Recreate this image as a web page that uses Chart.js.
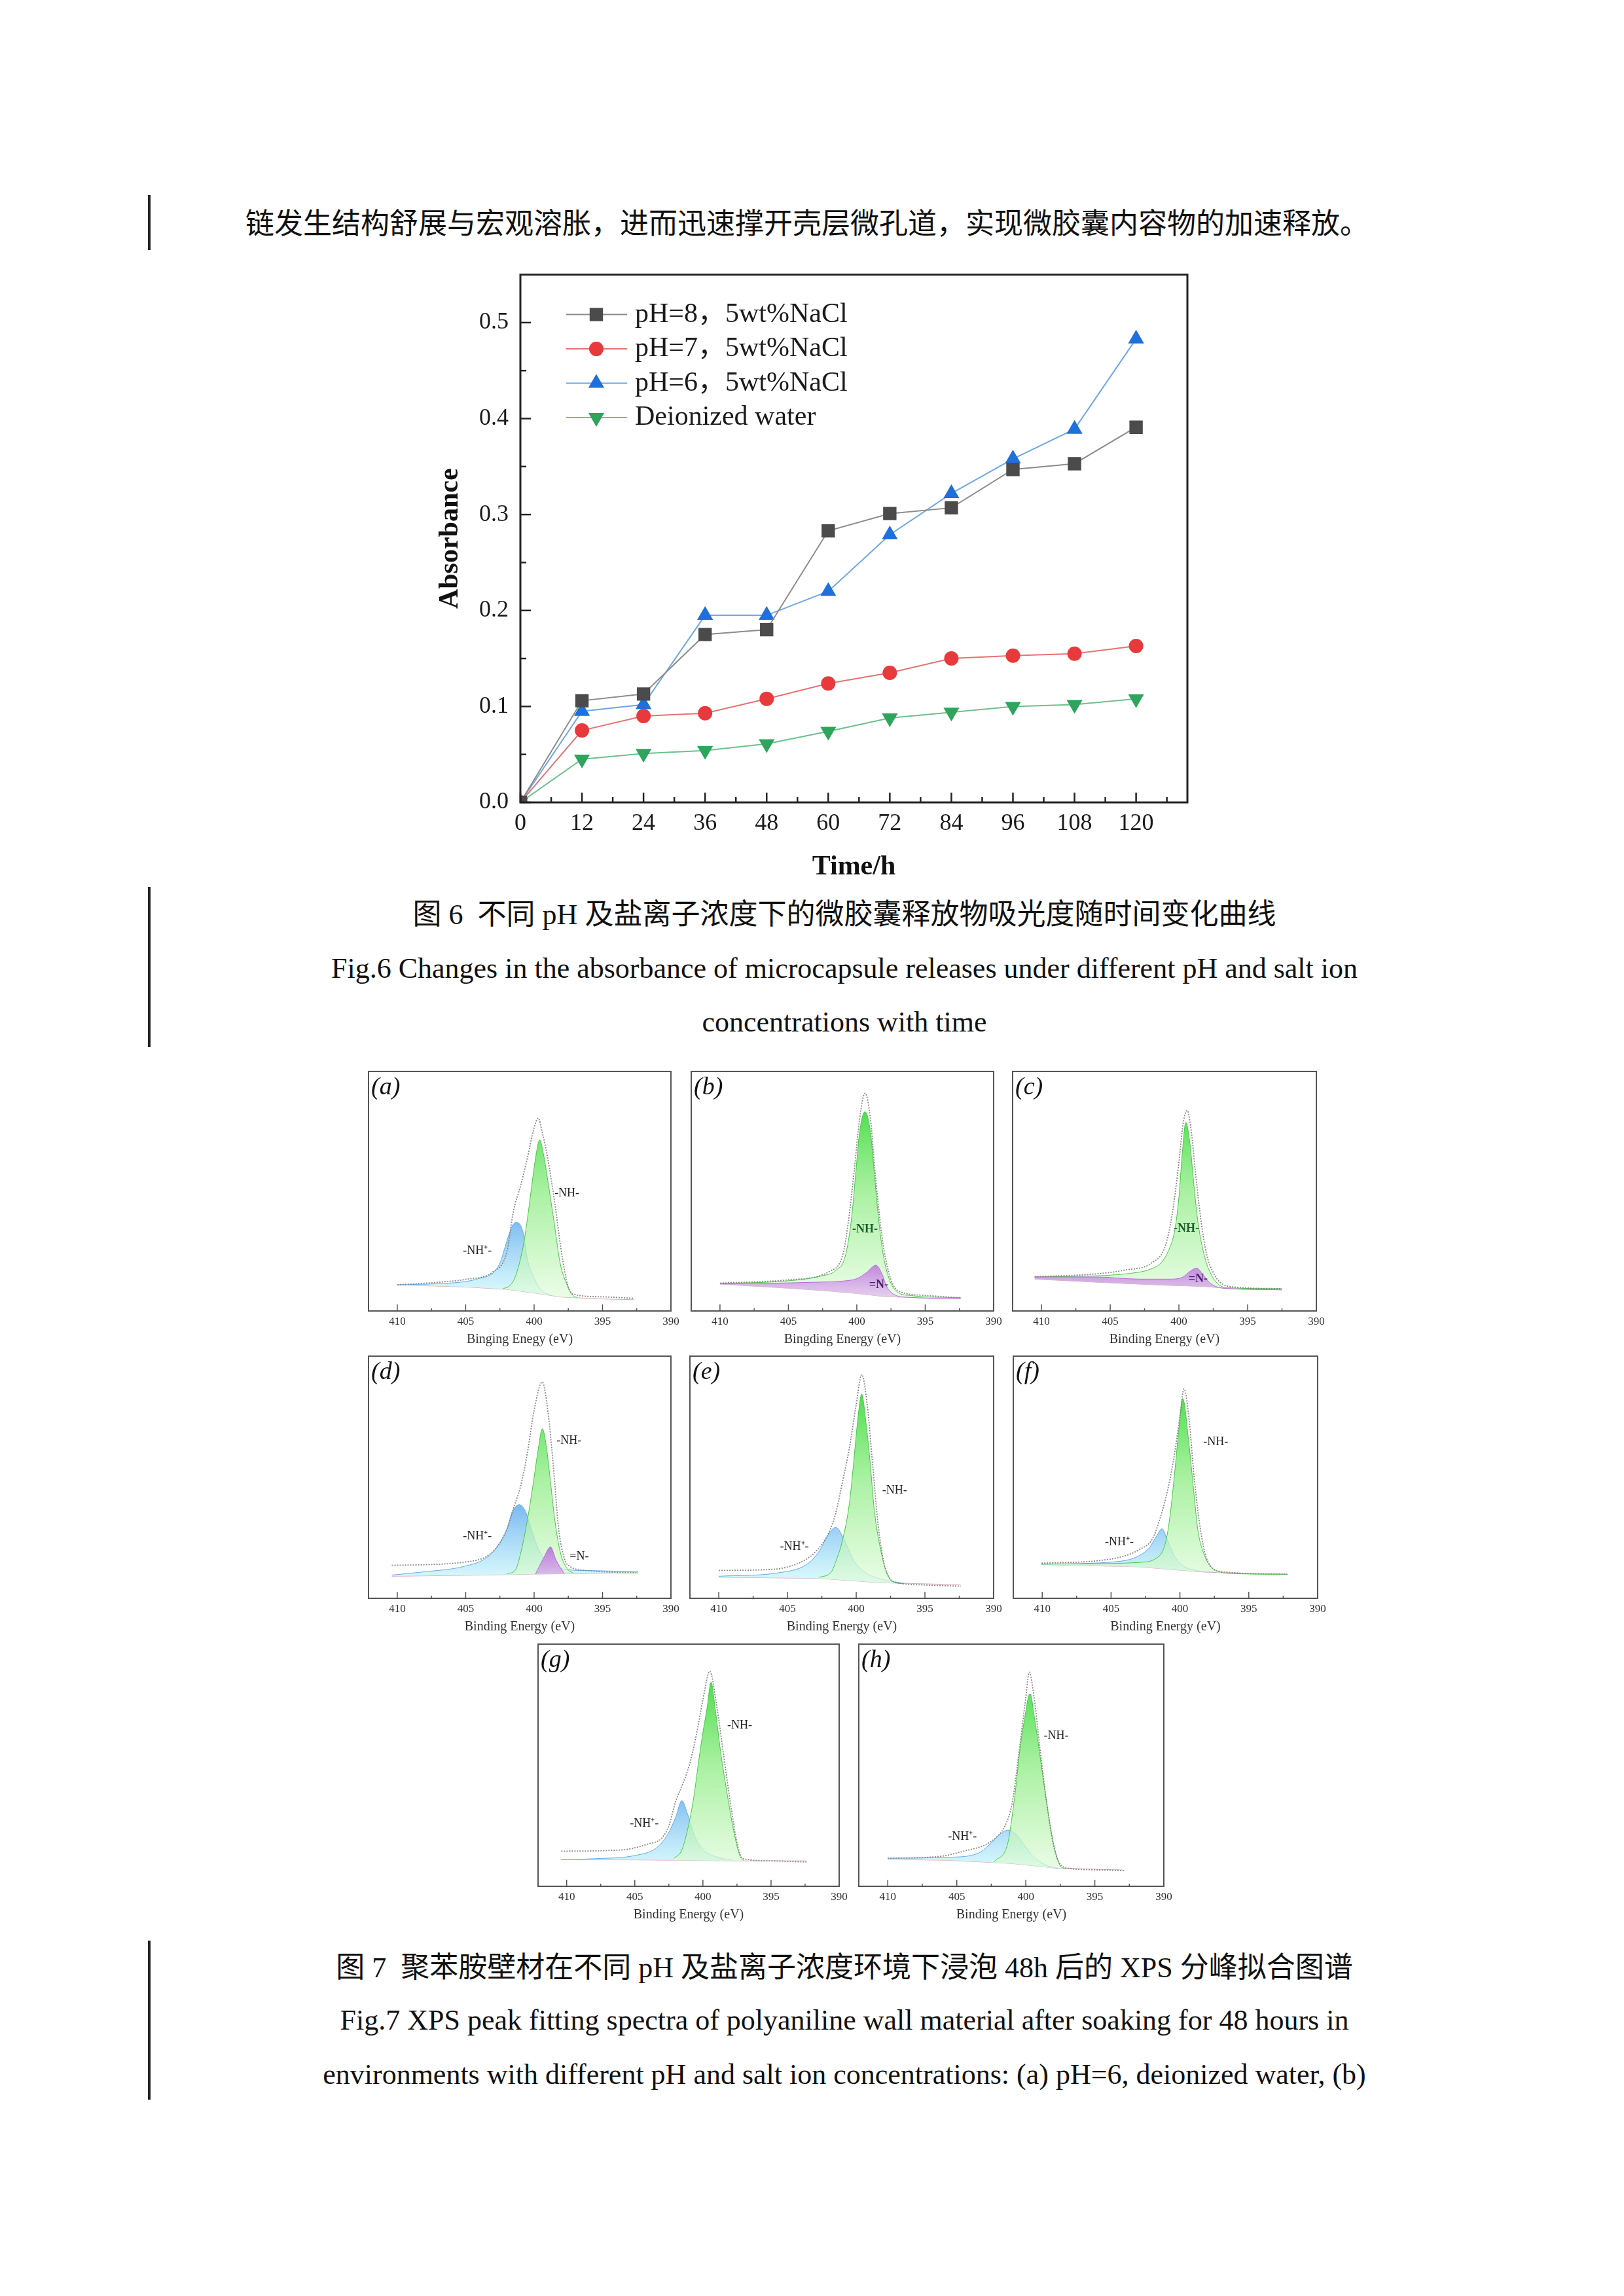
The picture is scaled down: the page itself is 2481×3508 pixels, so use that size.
<!DOCTYPE html>
<html>
<head>
<meta charset="utf-8">
<script src="https://cdn.jsdelivr.net/npm/chart.js@4.4.1/dist/chart.umd.min.js"></script>
<style>
html, body { margin: 0; padding: 0; background: #fff; }
#page { position: relative; width: 2481px; height: 3508px; background: #fff; overflow: hidden;
        font-family: "Liberation Serif", "Noto Sans CJK SC", serif; color: #111; }
.t { position: absolute; white-space: nowrap; font-size: 44px; line-height: 50px; }
.c { position: absolute; left: 290px; width: 2000px; text-align: center; white-space: nowrap; font-size: 44px; line-height: 50px; }
.bar { position: absolute; left: 226px; width: 4px; background: #222; }
canvas { position: absolute; }
</style>
</head>
<body>
<div id="page">
  <div class="bar" style="top:298px;height:84px"></div>
  <div class="t" style="left:375px;top:318px">链发生结构舒展与宏观溶胀，进而迅速撑开壳层微孔道，实现微胶囊内容物的加速释放。</div>

  <canvas id="fig6" width="1176" height="970" style="left:663px;top:380px"></canvas>

  <div class="bar" style="top:1355px;height:245px"></div>
  <div class="c" style="top:1373px">图 6&nbsp; 不同 pH 及盐离子浓度下的微胶囊释放物吸光度随时间变化曲线</div>
  <div class="c" style="top:1455px">Fig.6 Changes in the absorbance of microcapsule releases under different pH and salt ion</div>
  <div class="c" style="top:1537px">concentrations with time</div>

  <canvas id="pa"></canvas><canvas id="pb"></canvas><canvas id="pc"></canvas>
  <canvas id="pd"></canvas><canvas id="pe"></canvas><canvas id="pf"></canvas>
  <canvas id="pg"></canvas><canvas id="ph"></canvas>

  <div class="bar" style="top:2965px;height:243px"></div>
  <div class="c" style="top:2982px">图 7&nbsp; 聚苯胺壁材在不同 pH 及盐离子浓度环境下浸泡 48h 后的 XPS 分峰拟合图谱</div>
  <div class="c" style="top:3062px">Fig.7 XPS peak fitting spectra of polyaniline wall material after soaking for 48 hours in</div>
  <div class="c" style="top:3145px">environments with different pH and salt ion concentrations: (a) pH=6, deionized water, (b)</div>
</div>

<script>
// ---- Fig.6 data ----
const hours = [0, 12, 24, 36, 48, 60, 72, 84, 96, 108, 120];
const ph8 = [0, 0.106, 0.113, 0.175, 0.180, 0.283, 0.301, 0.307, 0.347, 0.353, 0.391];
const ph7 = [0, 0.075, 0.090, 0.093, 0.108, 0.124, 0.135, 0.150, 0.153, 0.155, 0.163];
const ph6 = [0, 0.095, 0.102, 0.195, 0.195, 0.220, 0.279, 0.322, 0.358, 0.389, 0.483];
const water = [0, 0.045, 0.051, 0.054, 0.061, 0.074, 0.088, 0.094, 0.100, 0.102, 0.108];
const hourTicks = [0, 12, 24, 36, 48, 60, 72, 84, 96, 108, 120];
const hourMinor = [6, 18, 30, 42, 54, 66, 78, 90, 102, 114, 126];
const absTicks = [0, 0.1, 0.2, 0.3, 0.4, 0.5];
const absMinor = [0.05, 0.15, 0.25, 0.35, 0.45];

// ---- Fig.7 data: [binding energy eV, intensity (a.u.)] ----
const aBg   = [[410,10.9],[405,10],[402,9],[400,7.5],[398,5.8],[395,5],[392.7,4.7]];
const aNHp  = [[410,10.9],[407,11.4],[405,12.3],[404,13.6],[403,15.9],[402.5,20],[402,29],[401.6,35.5],[401.3,37],[400.8,32.7],[400.5,21.8],[400.05,14.5],[399.5,8.8],[398.8,6.6]];
const aNH   = [[402.3,9.2],[401.7,11],[401.3,15.5],[400.8,27],[400.5,38],[400.2,51],[399.9,63.6],[399.6,71.4],[399.3,65],[399,54.5],[398.5,35.5],[398.1,20],[397.6,11],[397.3,7.3],[396.85,5.4]];
const aEnv  = [[410,10.9],[407,12],[405,13.2],[403,16.4],[402,24.5],[401.5,42],[401,52],[400.5,63.6],[400,76.4],[399.7,80.5],[399.4,74.5],[399,63.6],[398.5,45.5],[398,24.5],[397.5,10],[397,6.8],[395,5.9],[392.7,5.3]];

const bBg   = [[410,11.2],[405,9.5],[402,8.3],[400,7.3],[398,6],[396,5.6],[392.4,5.2]];
const bN    = [[410,11.4],[406,11.6],[403,12],[401,12.5],[400,13.5],[399.3,16],[398.6,19.1],[398.2,16],[397.8,10],[397.3,7],[396.5,5.8],[392.4,5.2]];
const bNH   = [[410,11.5],[405.7,12.3],[402.7,14.5],[401.45,17.3],[400.85,22.7],[400.4,38],[400.1,56],[399.8,74.5],[399.4,83.2],[399,74.5],[398.7,56],[398.4,38],[398.1,24.5],[397.7,14.5],[397.1,8.2],[396,6.4],[392.4,5.5]];
const bEnv  = [[410,11.6],[405,13],[402,16.5],[401,24],[400.6,38],[400.2,58],[399.8,80],[399.4,90.9],[399,80],[398.7,60],[398.35,40],[398,25],[397.5,13],[397,8.5],[395,6.5],[392.4,5.5]];

const cBg   = [[410.5,13.3],[406,12],[401.3,10.8],[398.1,10.2],[396.5,9.4],[392.5,8.8]];
const cN    = [[410.5,14.2],[406,14.2],[402.9,13.3],[400.6,13.3],[399.7,14.2],[399.2,16.5],[398.7,17.9],[398.3,15.6],[397.8,12],[397.3,10.2],[396.5,9.4],[392.5,8.8]];
const cNH   = [[410.5,14.2],[406,14.7],[403.7,15.6],[402.1,17.4],[401.3,20.1],[400.8,24.7],[400.3,33.8],[400,47.4],[399.76,65.5],[399.5,78.7],[399.2,70],[398.9,52],[398.6,36.5],[398.1,22],[397.6,14.7],[397.1,11],[396.5,9.7],[392.5,9.3]];
const cEnv  = [[410.5,14.3],[406,15.5],[404,17],[402,20],[401,27],[400.5,40],[400,62],[399.7,78],[399.4,83.7],[399.1,75],[398.8,58],[398.4,38],[398,24],[397.5,16],[397,12],[396,10],[392.5,9.3]];

const dBg   = [[410.4,9.1],[403.5,9.6],[399.9,10],[392.4,10.5]];
const dNHp  = [[410.4,9.6],[408.1,10.9],[405.1,13.2],[403.5,16.7],[402.6,22.1],[402,28.4],[401.6,35.5],[401.1,38.7],[400.6,35.5],[400.2,28.4],[399.6,19.4],[398.7,14],[397.5,11.8],[395.6,11.4],[392.4,11]];
const dNH   = [[402,10.2],[401.4,11.4],[400.95,19.4],[400.5,32],[400.05,48],[399.7,61.5],[399.4,70],[399.1,62.4],[398.8,48],[398.5,32.9],[398.1,19.4],[397.6,12.3],[397.15,10.4]];
const dN    = [[399.9,10],[399.3,16.7],[398.8,21.2],[398.4,15.8],[397.8,10.2]];
const dEnv  = [[410.4,13.6],[405,15],[403,19.4],[402,28.4],[401.5,37.3],[401,46],[400.5,59.7],[400,77.6],[399.4,89.3],[399,77.6],[398.6,55],[398.2,28.4],[397.8,16.7],[397.5,13.6],[396,11.4],[392.4,10.5]];

const eBg   = [[410,8.7],[402.7,8.2],[398.1,6.4],[392.4,5.6]];
const eNHp  = [[410,9.1],[405.7,10.5],[403.6,14],[402.7,19.4],[402.1,25.7],[401.5,29.3],[400.85,23.9],[400.2,15.8],[399.3,10.5],[398.1,7.8],[397.4,6.9],[396.5,6.2]];
const eNH   = [[402.7,8.6],[401.8,11],[401.5,15],[401,23.9],[400.5,39.1],[400.2,55.2],[399.9,73.1],[399.6,84.3],[399.3,73],[399,57],[398.7,37.3],[398.2,19.4],[397.7,9.6],[397.1,6.4],[396.6,6]];
const eEnv  = [[410,11.5],[406,12],[404,15],[403,19],[402,27],[401.5,35],[401,48],[400.5,62],[400,80],[399.6,92.4],[399.2,80],[398.8,55],[398.4,30],[398,15],[397.6,8.5],[397,6.5],[395,5.5],[392.4,5]];

const fBg   = [[410.05,13.9],[403,13],[398.2,10.8],[392.2,9.9]];
const fNHp  = [[410.05,14.1],[404.5,15.2],[403,17.5],[402.2,21.1],[401.7,25.6],[401.3,28.7],[400.9,23.8],[400.4,17.5],[399.8,13.5],[399,11.7],[397.4,10.7]];
const fNH   = [[410.05,14.1],[406.1,14.3],[403,14.8],[401.5,17.5],[401.05,22.9],[400.75,32.7],[400.4,50.7],[400.1,68.6],[399.8,82.5],[399.35,64.1],[399,44.4],[398.7,28.3],[398.2,17.5],[397.75,13],[397.25,11.2],[396.6,10.3],[392.2,9.9]];
const fEnv  = [[410.05,14.5],[406,15.5],[404,17.5],[403,20],[402,24.5],[401.5,32],[401,42],[400.5,56],[400,75],[399.7,86.5],[399.3,72],[399,52],[398.6,32],[398.2,19],[397.8,13.5],[397,11],[392.2,10]];

const gBg   = [[410.4,11],[404.9,10.9],[397.3,10.5],[392.4,10.5]];
const gNHp  = [[410.4,11],[407.9,11.4],[404.9,12.8],[403.4,15.9],[402.6,21.3],[402,28.5],[401.55,35.3],[401.1,29.4],[400.65,21.3],[400.05,15.5],[399.1,12.3],[397.9,10.8]];
const gNH   = [[402.15,11.4],[401.55,15],[401.1,24],[400.65,37.5],[400.35,50.1],[400.05,61.8],[399.7,73.5],[399.4,84.3],[399.1,73.5],[398.7,55.5],[398.2,37.5],[397.75,23.1],[397.3,12.8],[397,10.6]];
const gEnv  = [[410.4,14.5],[406,15],[404,17.5],[403,20],[402.5,25],[402,35],[401.5,42],[401,50],[400.5,62],[400,77],[399.5,88.8],[399,75],[398.5,55],[398,35],[397.5,18],[397.1,11.5],[395,10.5],[392.4,10]];

const hBg   = [[410,11.2],[405.5,10.7],[401,9.4],[398,7.6],[392.9,6.7]];
const hNHp  = [[410,11.6],[405.5,12],[403.4,13.8],[402.5,17.9],[401.9,21.4],[401.3,23.2],[400.7,21.4],[400.1,17],[399.5,12.5],[398.6,8.9],[397.7,7.4]];
const hNH   = [[402.3,10],[401.3,17.9],[401,28.6],[400.7,42],[400.45,55.4],[400.1,68.8],[399.7,79.5],[399.35,68.8],[398.9,50.9],[398.45,33],[398,17.9],[397.55,8.9],[397.1,7.1]];
const hEnv  = [[410,11.5],[406,12.5],[404.5,14.5],[403,17],[402,21],[401.5,25],[401,34],[400.5,55],[400,78],[399.75,88.4],[399.4,78],[399,58],[398.5,35],[398,17],[397.6,10],[397,7.5],[395,6.8],[392.9,6.5]];

const evTicks = [410, 405, 400, 395, 390];
const evMinor = [407.5, 402.5, 397.5, 392.5];

Chart.defaults.font.family = '"Liberation Serif", "Noto Sans CJK SC", serif';
Chart.defaults.color = '#1a1a1a';

// box round the plot area + ticks pointing inwards
const frameTicks = {
  id: 'frameTicks',
  afterDatasetsDraw(chart, args, o) {
    const { ctx, chartArea: a, scales } = chart;
    ctx.save();
    ctx.lineWidth = o.tickWidth;
    ctx.strokeStyle = o.color;
    (o.x || []).forEach(([vals, len]) => vals.forEach(v => {
      const px = scales.x.getPixelForValue(v);
      ctx.beginPath(); ctx.moveTo(px, a.bottom); ctx.lineTo(px, a.bottom - len); ctx.stroke();
    }));
    (o.y || []).forEach(([vals, len]) => vals.forEach(v => {
      const py = scales.y.getPixelForValue(v);
      ctx.beginPath(); ctx.moveTo(a.left, py); ctx.lineTo(a.left + len, py); ctx.stroke();
    }));
    ctx.lineWidth = o.width;
    ctx.strokeRect(a.left, a.top, a.right - a.left, a.bottom - a.top);
    ctx.restore();
  }
};

// legend drawn inside the plot, line + marker + text
const innerLegend = {
  id: 'innerLegend',
  afterDatasetsDraw(chart, args, o) {
    const { ctx, chartArea: a } = chart;
    ctx.save();
    ctx.font = o.font;
    ctx.textBaseline = 'middle';
    chart.data.datasets.forEach((ds, i) => {
      const y = a.top + o.top + i * o.gap;
      ctx.strokeStyle = ds.borderColor;
      ctx.lineWidth = ds.borderWidth;
      ctx.beginPath(); ctx.moveTo(a.left + o.lineFrom, y); ctx.lineTo(a.left + o.lineTo, y); ctx.stroke();
      ctx.fillStyle = ds.pointBackgroundColor;
      ctx.strokeStyle = ds.pointBorderColor;
      Chart.helpers.drawPoint(ctx, { pointStyle: ds.pointStyle, rotation: ds.pointRotation || 0, radius: ds.pointRadius, borderWidth: 1 }, a.left + o.mark, y);
      ctx.fillStyle = '#1a1a1a';
      ctx.fillText(ds.label, a.left + o.text, y);
    });
    ctx.restore();
  }
};

const xy = arr => arr.map(([x, y]) => ({ x, y }));
const series = vals => hours.map((h, i) => ({ x: h, y: vals[i] }));

new Chart(document.getElementById('fig6'), {
  type: 'line',
  data: {
    datasets: [
      { label: 'pH=8，5wt%NaCl', data: series(ph8), borderColor: '#8c8c8c', borderWidth: 2,
        pointStyle: 'rect', pointRadius: 13, pointBackgroundColor: '#4b4b4b', pointBorderColor: '#4b4b4b' },
      { label: 'pH=7，5wt%NaCl', data: series(ph7), borderColor: '#e57373', borderWidth: 2,
        pointStyle: 'circle', pointRadius: 10, pointBackgroundColor: '#e83a3c', pointBorderColor: '#e83a3c' },
      { label: 'pH=6，5wt%NaCl', data: series(ph6), borderColor: '#6fa6e6', borderWidth: 2,
        pointStyle: 'triangle', pointRadius: 12, pointBackgroundColor: '#1f6fde', pointBorderColor: '#1f6fde' },
      { label: 'Deionized water', data: series(water), borderColor: '#6cc18c', borderWidth: 2,
        pointStyle: 'triangle', pointRotation: 180, pointRadius: 12, pointBackgroundColor: '#2fa45c', pointBorderColor: '#2fa45c' }
    ]
  },
  options: {
    responsive: false, animation: false, devicePixelRatio: 1,
    layout: { padding: { top: 24, right: 25, bottom: 0, left: 0 } },
    plugins: {
      legend: { display: false }, tooltip: { enabled: false },
      frameTicks: { color: '#222', width: 3, tickWidth: 2.5,
        x: [[hourTicks, 15], [hourMinor, 8]], y: [[absTicks, 16], [absMinor, 9]] },
      innerLegend: { font: '42px "Liberation Serif", "Noto Sans CJK SC"', top: 61, gap: 52.5,
        lineFrom: 70, lineTo: 163, mark: 116, text: 175 }
    },
    scales: {
      x: {
        type: 'linear', min: 0, max: 130,
        grid: { display: false, drawTicks: false }, border: { display: false },
        afterBuildTicks: s => { s.ticks = hourTicks.map(v => ({ value: v })); },
        afterFit: s => { s.height = 124; },
        ticks: { font: { size: 36 }, padding: 11, maxRotation: 0, color: '#1a1a1a' },
        title: { display: true, text: 'Time/h', font: { size: 42, weight: 'bold' }, padding: 0, color: '#111' }
      },
      y: {
        min: 0, max: 0.55,
        grid: { display: false, drawTicks: false }, border: { display: false },
        afterBuildTicks: s => { s.ticks = absTicks.map(v => ({ value: v })); },
        afterFit: s => { s.width = 132; },
        ticks: { font: { size: 36 }, padding: 18, callback: v => v.toFixed(1), color: '#1a1a1a' },
        title: { display: true, text: 'Absorbance', font: { size: 42, weight: 'bold' }, padding: 0, color: '#111' }
      }
    }
  },
  plugins: [frameTicks, innerLegend]
});

// ---- Fig.7 panels ----
function grad(stops) {
  return c => {
    const a = c.chart.chartArea;
    if (!a) return 'rgba(0,0,0,0)';
    const g = c.chart.ctx.createLinearGradient(0, a.top, 0, a.bottom);
    stops.forEach(([p, col]) => g.addColorStop(p, col));
    return g;
  };
}
const peakStyle = {
  NH:  { border: '#46c846', fill: grad([[0.1, 'rgba(40,214,40,0.9)'], [0.5, 'rgba(140,236,130,0.75)'], [0.95, 'rgba(228,252,222,0.7)']]) },
  NHp: { border: '#62a8e6', fill: grad([[0.55, 'rgba(82,160,236,0.9)'], [0.9, 'rgba(196,242,250,0.75)']]) },
  N:   { border: '#b56ad6', fill: grad([[0.75, 'rgba(176,84,214,0.9)'], [0.95, 'rgba(228,196,242,0.75)']]) }
};

const panelText = {
  id: 'panelText',
  afterDatasetsDraw(chart, args, o) {
    const { ctx, chartArea: a, scales } = chart;
    ctx.save();
    ctx.fillStyle = '#111';
    ctx.textBaseline = 'top';
    ctx.textAlign = 'left';
    ctx.font = 'italic 38px "Liberation Serif"';
    ctx.fillText(o.tag, a.left + 4, a.top + 6);
    ctx.textAlign = 'center';
    ctx.textBaseline = 'middle';
    o.labels.forEach(([txt, x, y, col, bold]) => {
      ctx.font = (bold ? 'bold ' : '') + '18px "Liberation Serif"';
      ctx.fillStyle = col;
      ctx.fillText(txt, scales.x.getPixelForValue(x), scales.y.getPixelForValue(y));
    });
    ctx.restore();
  }
};

function xpsPanel(id, frame, tag, title, peaks, bg, env, labels) {
  const [l, t, r, b] = frame;
  const cv = document.getElementById(id);
  cv.width = r - l + 50;
  cv.height = b - t + 61;
  cv.style.left = (l - 25) + 'px';
  cv.style.top = (t - 5) + 'px';
  const bgIndex = peaks.length + 1;
  const datasets = [
    { data: xy(env), borderColor: 'rgba(125,125,125,0.9)', borderWidth: 1.8, borderDash: [2, 2],
      pointRadius: 0, fill: false, cubicInterpolationMode: 'monotone' }
  ];
  peaks.forEach(([kind, data]) => datasets.push({
    data: xy(data), borderColor: peakStyle[kind].border, borderWidth: 1,
    backgroundColor: peakStyle[kind].fill, fill: bgIndex, pointRadius: 0, cubicInterpolationMode: 'monotone'
  }));
  datasets.push({ data: xy(bg), borderColor: '#dba6ae', borderWidth: 1, pointRadius: 0, fill: false });
  new Chart(cv, {
    type: 'line',
    data: { datasets },
    options: {
      responsive: false, animation: false, devicePixelRatio: 1,
      layout: { padding: { top: 5, right: 25, bottom: 0, left: 25 } },
      plugins: {
        legend: { display: false }, tooltip: { enabled: false },
        frameTicks: { color: '#555', width: 2, tickWidth: 1.5, x: [[evTicks, 10], [evMinor, 4]] },
        panelText: { tag, labels }
      },
      scales: {
        x: {
          type: 'linear', min: 390, max: 412.1, reverse: true,
          grid: { display: false, drawTicks: false }, border: { display: false },
          afterBuildTicks: s => { s.ticks = evTicks.map(v => ({ value: v })); },
          afterFit: s => { s.height = 56; },
          ticks: { font: { size: 17 }, padding: 6, maxRotation: 0, color: '#333' },
          title: { display: true, text: title, font: { size: 20 }, padding: 0, color: '#333' }
        },
        y: { display: false, min: 0, max: 100 }
      }
    },
    plugins: [frameTicks, panelText]
  });
}

const k = '#222', dg = '#1d5e2a', dp = '#4b1f6b';
xpsPanel('pa', [563, 1637, 1025, 2003], '(a)', 'Binging Enegy (eV)',
  [['NH', aNH], ['NHp', aNHp]], aBg, aEnv, [['-NH-', 397.6, 49, k], ['-NH⁺-', 404.15, 25, k]]);
xpsPanel('pb', [1056, 1637, 1518, 2003], '(b)', 'Bingding Energy (eV)',
  [['N', bN], ['NH', bNH]], bBg, bEnv, [['-NH-', 399.4, 34, dg, 1], ['=N-', 398.4, 10.9, dp, 1]]);
xpsPanel('pc', [1547, 1637, 2011, 2003], '(c)', 'Binding Energy (eV)',
  [['N', cN], ['NH', cNH]], cBg, cEnv, [['-NH-', 399.45, 34.2, dg, 1], ['=N-', 398.6, 13.3, dp, 1]]);
xpsPanel('pd', [563, 2072, 1025, 2442], '(d)', 'Binding Energy (eV)',
  [['N', dN], ['NH', dNH], ['NHp', dNHp]], dBg, dEnv,
  [['-NH-', 397.45, 65, k], ['-NH⁺-', 404.15, 25.7, k], ['=N-', 396.7, 17.2, k]]);
xpsPanel('pe', [1054, 2072, 1518, 2442], '(e)', 'Binding Energy (eV)',
  [['NH', eNH], ['NHp', eNHp]], eBg, eEnv, [['-NH-', 397.2, 44.5, k], ['-NH⁺-', 404.5, 21.2, k]]);
xpsPanel('pf', [1548, 2072, 2013, 2442], '(f)', 'Binding Energy (eV)',
  [['NH', fNH], ['NHp', fNHp]], fBg, fEnv, [['-NH-', 397.4, 64.6, k], ['-NH⁺-', 404.4, 23.3, k]]);
xpsPanel('pg', [822, 2512, 1282, 2882], '(g)', 'Binding Energy (eV)',
  [['NH', gNH], ['NHp', gNHp]], gBg, gEnv, [['-NH-', 397.3, 66.3, k], ['-NH⁺-', 404.3, 25.8, k]]);
xpsPanel('ph', [1312, 2512, 1778, 2882], '(h)', 'Binding Energy (eV)',
  [['NH', hNH], ['NHp', hNHp]], hBg, hEnv, [['-NH-', 397.8, 62, k], ['-NH⁺-', 404.6, 20.5, k]]);
</script>
</body>
</html>
